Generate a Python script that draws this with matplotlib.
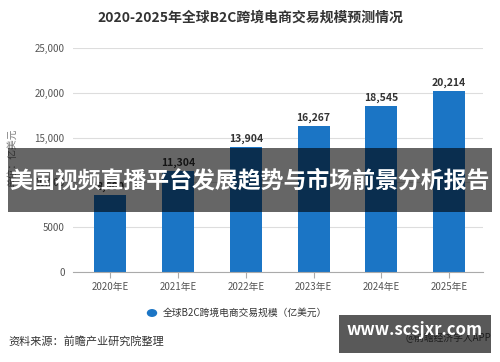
import matplotlib
matplotlib.use('Agg')
import matplotlib.pyplot as plt
from matplotlib.patches import Rectangle

plt.rcParams['font.family'] = ['Noto Sans CJK SC', 'DejaVu Sans']

years = ['2020年E', '2021年E', '2022年E', '2023年E', '2024年E', '2025年E']
values = [8600, 11304, 13904, 16267, 18545, 20214]
yticks = [0, 5000, 10000, 15000, 20000, 25000]
ytick_labels = ['0', '5000', '10,000', '15,000', '20,000', '25,000']

bar_color = '#1b75c5'

fig = plt.figure(figsize=(5, 3.62), dpi=100)
ax = fig.add_axes([73 / 500, 90 / 362, 410 / 500, 224 / 362])

x = range(len(years))
ax.bar(x, values, width=0.47, color=bar_color, zorder=2)
for i, v in zip(x, values):
    ax.text(i, v + 350, f'{v:,}', ha='center', va='bottom', fontsize=7.5,
            fontweight='bold', color='#333333')

ax.set_xlim(-0.55, 5.5)
ax.set_ylim(0, 25000)
ax.set_yticks(yticks)
ax.set_yticklabels(ytick_labels, fontsize=7, color='#555555')
ax.set_xticks(list(x))
ax.set_xticklabels(years, fontsize=7, color='#555555')
ax.tick_params(axis='y', length=0, pad=6)
ax.tick_params(axis='x', length=4, color='#aaaaaa', pad=3)
ax.grid(axis='y', color='#dddddd', linewidth=0.8, zorder=0)
for s in ['top', 'right', 'left']:
    ax.spines[s].set_visible(False)
ax.spines['bottom'].set_color('#aaaaaa')

fig.text(0.5, 1 - 18 / 362, '2020-2025年全球B2C跨境电商交易规模预测情况',
         ha='center', va='center', fontsize=10, fontweight='bold', color='#333333')
fig.text(12 / 500, 1 - 129 / 362, '单位：亿美元', rotation=90, ha='center', va='top',
         fontsize=7, color='#777777', zorder=3)

# legend
fig.patches.append(plt.Circle((152 / 500, 1 - 313 / 362), 0.009, transform=fig.transFigure,
                              color=bar_color, figure=fig))
fig.text(163 / 500, 1 - 313 / 362, '全球B2C跨境电商交易规模（亿美元）', ha='left', va='center',
         fontsize=7, color='#333333')

fig.text(8 / 500, 1 - 341 / 362, '资料来源：前瞻产业研究院整理', ha='left', va='center',
         fontsize=8, color='#333333')
fig.text(491 / 500, 1 - 338 / 362, '@前瞻经济学人APP', ha='right', va='center',
         fontsize=7, color='#555555', zorder=3)

# overlay banner
fig.patches.append(Rectangle((8 / 500, 1 - 212 / 362), 484 / 500, 64 / 362,
                             transform=fig.transFigure, facecolor='black', alpha=0.6,
                             edgecolor='none', zorder=5, figure=fig))
fig.text(250 / 500, 1 - 181 / 362, '美国视频直播平台发展趋势与市场前景分析报告', ha='center',
         va='center', fontsize=16.5, fontweight='bold', color='white', zorder=6)

# watermark box
fig.patches.append(Rectangle((339 / 500, 1 - 353 / 362), 152 / 500, 38 / 362,
                             transform=fig.transFigure, facecolor='black', alpha=0.65,
                             edgecolor='none', zorder=5, figure=fig))
fig.text(415 / 500, 1 - 330 / 362, 'www.scsjxr.com', ha='center', va='center',
         fontsize=12, fontweight='bold', color='white', zorder=6)

fig.savefig('out.png', dpi=100)
